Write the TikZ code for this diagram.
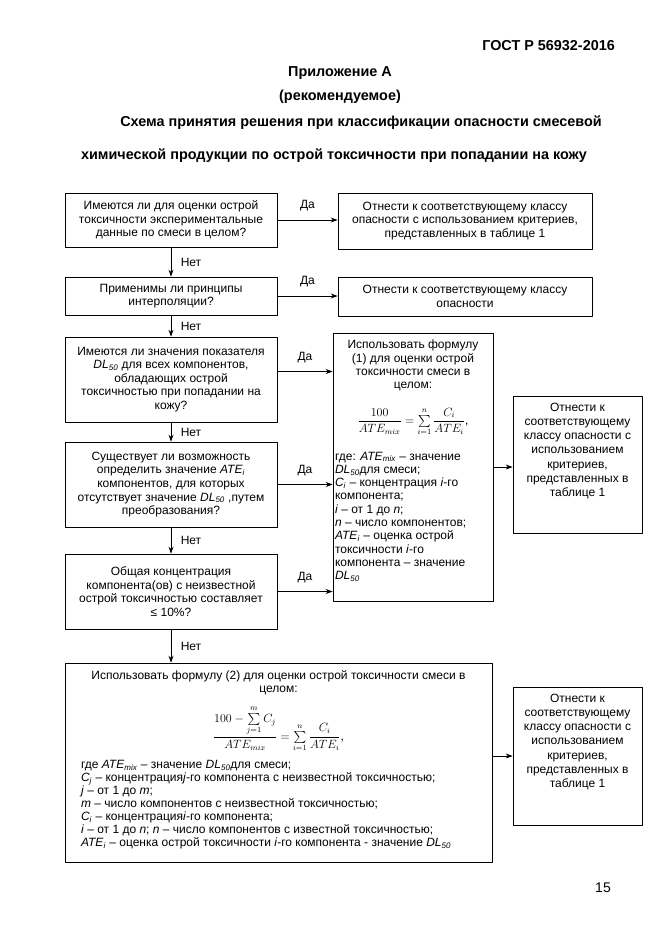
\documentclass[tikz,border=0pt]{standalone}
\usepackage{fontspec}
\setmainfont{Liberation Sans}
\usepackage{amsmath}
\usetikzlibrary{arrows.meta}
\newcommand{\dlf}{\textit{DL}\textsubscript{\textit{50}}}
\newcommand{\atei}{\textit{ATE}\textsubscript{\textit{i}}}
\newcommand{\atemix}{\textit{ATE}\textsubscript{\textit{mix}}}
\begin{document}
\begin{tikzpicture}[
	x=1pt,y=-1pt,
	>={Stealth[length=7pt,width=5pt]},
	line cap=round,
	line join=round,
	font=\fontsize{12}{13.6}\selectfont,
	qbox/.style={draw,line width=0.7pt,align=center,minimum width=212pt,inner sep=2pt},
	rbox/.style={draw,line width=0.7pt,align=center,minimum width=254pt,inner sep=2pt},
	pbox/.style={draw,line width=0.7pt,inner xsep=2pt,inner ysep=0pt},
	headst/.style={font=\fontsize{14.4}{17}\selectfont\bfseries,inner sep=0pt},
	dalabel/.style={midway,above,yshift=5pt},
	netlabel/.style={midway,right,xshift=6pt}
	]
	\useasboundingbox (0,0) rectangle (661,935);
	\node[headst,anchor=east] (gost) at (615,46) {ГОСТ Р 56932-2016};
	\node[headst] (pril) at (340,73) {Приложение А};
	\node[headst] (rekom) at (340,97) {(рекомендуемое)};
	\node[headst] (title1) at (361,123) {Схема принятия решения при классификации опасности смесевой};
	\node[headst] (title2) at (334,156) {химической продукции по острой токсичности при попадании на кожу};
	\node[qbox,minimum height=54pt] (q1) at (171,220) {Имеются ли для оценки острой\\токсичности экспериментальные\\данные по смеси в целом?};
	\node[qbox,minimum height=38pt] (q2) at (171,296) {Применимы ли принципы\\интерполяции?};
	\node[qbox,minimum height=85pt] (q3) at (171,379.5) {Имеются ли значения показателя\\\dlf{} для всех компонентов,\\обладающих острой\\токсичностью при попадании на\\кожу?};
	\node[qbox,minimum height=85pt] (q4) at (171,484.5) {Существует ли возможность\\определить значение \atei\\компонентов, для которых\\отсутствует значение \dlf{} ,путем\\преобразования?};
	\node[qbox,minimum height=75pt] (q5) at (171,591.5) {Общая концентрация\\компонента(ов) с неизвестной\\острой токсичностью составляет\\≤ 10\%?};
	\node[rbox,minimum height=56pt] (r1) at (465,221) {Отнести к соответствующему классу\\опасности с использованием критериев,\\представленных в таблице 1};
	\node[rbox,minimum height=39pt] (r2) at (465,296.5) {Отнести к соответствующему классу\\опасности};
	\node[pbox] (f1) at (413,467) {\parbox[c][268pt][t]{156pt}{\fontsize{12}{13.3}\selectfont\vspace*{7pt}%
		{\centering Использовать формулу\\(1) для оценки острой\\токсичности смеси в\\целом:\par}%
		\vspace{16pt}%
		{\centering $\dfrac{100}{ATE_{mix}}=\sum\limits_{i=1}^{n}\dfrac{C_i}{ATE_i}$,\par}%
		\vspace{15pt}%
		\raggedright где: \atemix{} – значение\\\dlf{}для смеси;\\\textit{C}\textsubscript{\textit{i}} – концентрация \textit{i}-го\\компонента;\\\textit{i} –  от 1 до \textit{n};\\\textit{n} – число компонентов;\\\atei{} – оценка острой\\токсичности \textit{i}-го\\компонента – значение\\\dlf}};
	\node[pbox] (k1) at (577.5,464.5) {\parbox[c][137pt][t]{125pt}{\fontsize{12}{14.2}\selectfont\centering\vspace*{7pt}%
		Отнести к\\соответствующему\\классу опасности с\\использованием\\критериев,\\представленных в\\таблице 1}};
	\node[pbox,inner xsep=16pt] (f2) at (278.5,762.5) {\parbox[c][199pt][t]{395pt}{\fontsize{12}{13}\selectfont\vspace*{8pt}%
		{\centering Использовать формулу (2) для оценки острой токсичности смеси в\\целом:\par}%
		\vspace{10pt}%
		{\centering $\dfrac{100-\textstyle\sum\limits_{j=1}^{m}C_j}{ATE_{mix}}=\sum\limits_{i=1}^{n}\dfrac{C_i}{ATE_i}$,\par}%
		\vspace{8pt}%
		\raggedright где \atemix{} – значение \dlf{}для смеси;\\
		\textit{C}\textsubscript{\textit{j}} – концентрация\textit{j}-го компонента с неизвестной токсичностью;\\
		\textit{j} – от 1 до \textit{m};\\
		\textit{m} – число компонентов с неизвестной токсичностью;\\
		\textit{C}\textsubscript{\textit{i}} – концентрация\textit{i}-го компонента;\\
		\textit{i} –  от 1 до \textit{n}; \textit{n} – число компонентов с известной токсичностью;\\
		\atei{} – оценка острой токсичности \textit{i}-го компонента - значение \dlf}};
	\node[pbox] (k2) at (577.5,756) {\parbox[c][138pt][t]{125pt}{\fontsize{12}{14.2}\selectfont\centering\vspace*{7pt}%
		Отнести к\\соответствующему\\классу опасности с\\использованием\\критериев,\\представленных в\\таблице 1}};
	\node[font=\fontsize{14}{16}\selectfont] (pagenum) at (603,888) {15};
	\coordinate (q3da) at ([yshift=8pt]q3.east);
	\begin{scope}[->,line width=0.9pt]
		\draw (q1) -- (q2) node[netlabel] {Нет};
		\draw (q2) -- (q3) node[netlabel] {Нет};
		\draw (q3) -- (q4) node[netlabel] {Нет};
		\draw (q4) -- (q5) node[netlabel] {Нет};
		\draw (q5.south) -- (q5.south |- f2.north) node[netlabel] {Нет};
		\draw (q1.east) -- (q1.east -| r1.west) node[dalabel] {Да};
		\draw (q2.east) -- (q2.east -| r2.west) node[dalabel] {Да};
		\draw (q3da) -- (q3da -| f1.west) node[dalabel] {Да};
		\draw (q4.east) -- (q4.east -| f1.west) node[dalabel] {Да};
		\draw (q5.east) -- (q5.east -| f1.west) node[dalabel] {Да};
		\draw (f1.east) -- (f1.east -| k1.west);
		\draw (k2.west -| f2.east) -- (k2.west);
	\end{scope}
\end{tikzpicture}
\end{document}
